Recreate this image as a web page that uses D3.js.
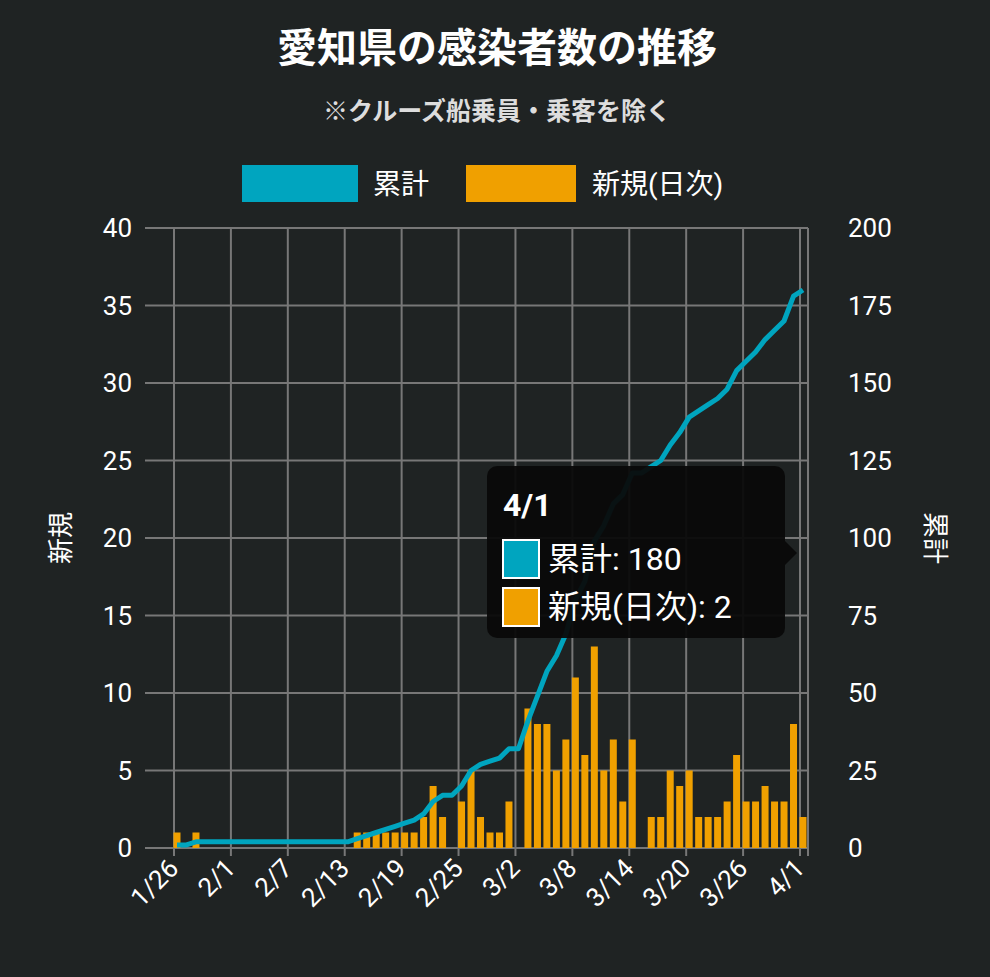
<!DOCTYPE html>
<html lang="ja">
<head>
<meta charset="UTF-8">
<script src="https://d3js.org/d3.v7.min.js"></script>
<style>
  body { margin: 0; background: #1f2323; }
  text { font-family: Roboto, "Noto Sans CJK JP", sans-serif; }
</style>
</head>
<body>
<div id="chart"></div>
<script>
  // daily new cases, 1/26 .. 4/1 (2020)
  const startDate = new Date(2020, 0, 26);
  const dailyNew = [
    1, 0, 1, 0, 0, 0, 0, 0, 0, 0, 0, 0, 0, 0, 0, 0, 0, 0, 0,
    1, 1, 1, 1, 1, 1, 1, 2, 4, 2, 0, 3, 5, 2, 1, 1, 3, 0,
    9, 8, 8, 5, 7, 11, 6, 13, 5, 7, 3, 7, 0,
    2, 2, 5, 4, 5, 2, 2, 2, 3, 6, 3, 3, 4, 3, 3, 8, 2
  ];
  const leftTicks = [0, 5, 10, 15, 20, 25, 30, 35, 40];
  const rightTicks = [0, 25, 50, 75, 100, 125, 150, 175, 200];

  const dates = dailyNew.map((_, i) => d3.timeDay.offset(startDate, i));
  let run = 0;
  const cumulative = dailyNew.map(v => (run += v));

  const W = 990, H = 977;
  const plotLeft = 145, plotRight = 808, plotTop = 228, plotBottom = 848;
  const teal = "#00a5bf", orange = "#f0a000";

  const svg = d3.select("#chart").append("svg").attr("width", W).attr("height", H);

  const x = d3.scaleTime().domain([dates[0], dates[dates.length - 1]]).range([174, 800]);
  const yL = d3.scaleLinear().domain([0, 40]).range([plotBottom, plotTop]);
  const yR = d3.scaleLinear().domain([0, 200]).range([plotBottom, plotTop]);

  // grid
  const grid = svg.append("g").attr("stroke", "#777").attr("stroke-width", 2);
  grid.selectAll(".h").data(leftTicks).join("line")
    .attr("x1", plotLeft).attr("x2", plotRight)
    .attr("y1", d => yL(d)).attr("y2", d => yL(d));
  const xTicks = dates.filter((d, i) => i % 6 === 0);
  grid.selectAll(".v").data(xTicks).join("line")
    .attr("x1", d => x(d)).attr("x2", d => x(d))
    .attr("y1", plotTop).attr("y2", plotBottom + 8);
  grid.append("line").attr("x1", plotRight).attr("x2", plotRight).attr("y1", plotTop).attr("y2", plotBottom + 8);

  // bars
  svg.append("g").selectAll("rect").data(dailyNew).join("rect")
    .attr("x", (d, i) => x(dates[i]) - 0.5)
    .attr("width", 7)
    .attr("y", d => yL(d))
    .attr("height", d => plotBottom - yL(d))
    .attr("fill", orange);

  // line
  svg.append("path").datum(cumulative)
    .attr("fill", "none").attr("stroke", teal).attr("stroke-width", 5)
    .attr("stroke-linejoin", "round")
    .attr("d", d3.line().x((d, i) => x(dates[i]) + 3).y(d => yR(d)));

  // axis labels
  svg.append("g").selectAll("text").data(leftTicks).join("text")
    .attr("x", 132).attr("y", d => yL(d) + 9).attr("text-anchor", "end")
    .attr("fill", "#fff").attr("font-size", 26).text(d => d);
  svg.append("g").selectAll("text").data(rightTicks).join("text")
    .attr("x", 848).attr("y", d => yR(d) + 9).attr("text-anchor", "start")
    .attr("fill", "#fff").attr("font-size", 26).text(d => d);
  const fmt = d3.timeFormat("%-m/%-d");
  svg.append("g").selectAll("text").data(xTicks).join("text")
    .attr("transform", d => `translate(${x(d) + 6},${plotBottom + 22}) rotate(-45)`)
    .attr("text-anchor", "end").attr("fill", "#fff").attr("font-size", 26)
    .text(d => fmt(d));

  svg.append("text").attr("transform", "translate(70,538) rotate(-90)")
    .attr("text-anchor", "middle").attr("fill", "#fff").attr("font-size", 26).text("新規");
  svg.append("text").attr("transform", "translate(926,538) rotate(90)")
    .attr("text-anchor", "middle").attr("fill", "#fff").attr("font-size", 26).text("累計");

  // titles
  svg.append("text").attr("x", 497).attr("y", 62).attr("text-anchor", "middle")
    .attr("fill", "#fff").attr("font-size", 40).attr("font-weight", "bold").text("愛知県の感染者数の推移");
  svg.append("text").attr("x", 497).attr("y", 120).attr("text-anchor", "middle")
    .attr("fill", "#ddd").attr("font-size", 25).attr("font-weight", "bold").text("※クルーズ船乗員・乗客を除く");

  // legend
  svg.append("rect").attr("x", 242).attr("y", 165).attr("width", 116).attr("height", 37).attr("fill", teal);
  svg.append("text").attr("x", 373).attr("y", 194).attr("fill", "#fff").attr("font-size", 28).text("累計");
  svg.append("rect").attr("x", 466).attr("y", 165).attr("width", 110).attr("height", 37).attr("fill", orange);
  svg.append("text").attr("x", 592).attr("y", 194).attr("fill", "#fff").attr("font-size", 28).text("新規(日次)");

  // tooltip
  const last = dates.length - 1;
  const tip = svg.append("g");
  tip.append("rect").attr("x", 487).attr("y", 466).attr("width", 298).attr("height", 172)
    .attr("rx", 10).attr("fill", "#0a0a0a").attr("opacity", 0.95);
  tip.append("path").attr("d", "M785,541 L797,553 L785,565 Z").attr("fill", "#0a0a0a");
  tip.append("text").attr("x", 503).attr("y", 516).attr("fill", "#fff")
    .attr("font-size", 32).attr("font-weight", "bold").text(fmt(dates[last]));
  tip.append("rect").attr("x", 503).attr("y", 540).attr("width", 36).attr("height", 38)
    .attr("fill", teal).attr("stroke", "#fff").attr("stroke-width", 2);
  tip.append("text").attr("x", 548).attr("y", 570).attr("fill", "#fff").attr("font-size", 32)
    .text("累計: " + cumulative[last]);
  tip.append("rect").attr("x", 503).attr("y", 588).attr("width", 36).attr("height", 38)
    .attr("fill", orange).attr("stroke", "#fff").attr("stroke-width", 2);
  tip.append("text").attr("x", 548).attr("y", 618).attr("fill", "#fff").attr("font-size", 32)
    .text("新規(日次): " + dailyNew[last]);
</script>
</body>
</html>
